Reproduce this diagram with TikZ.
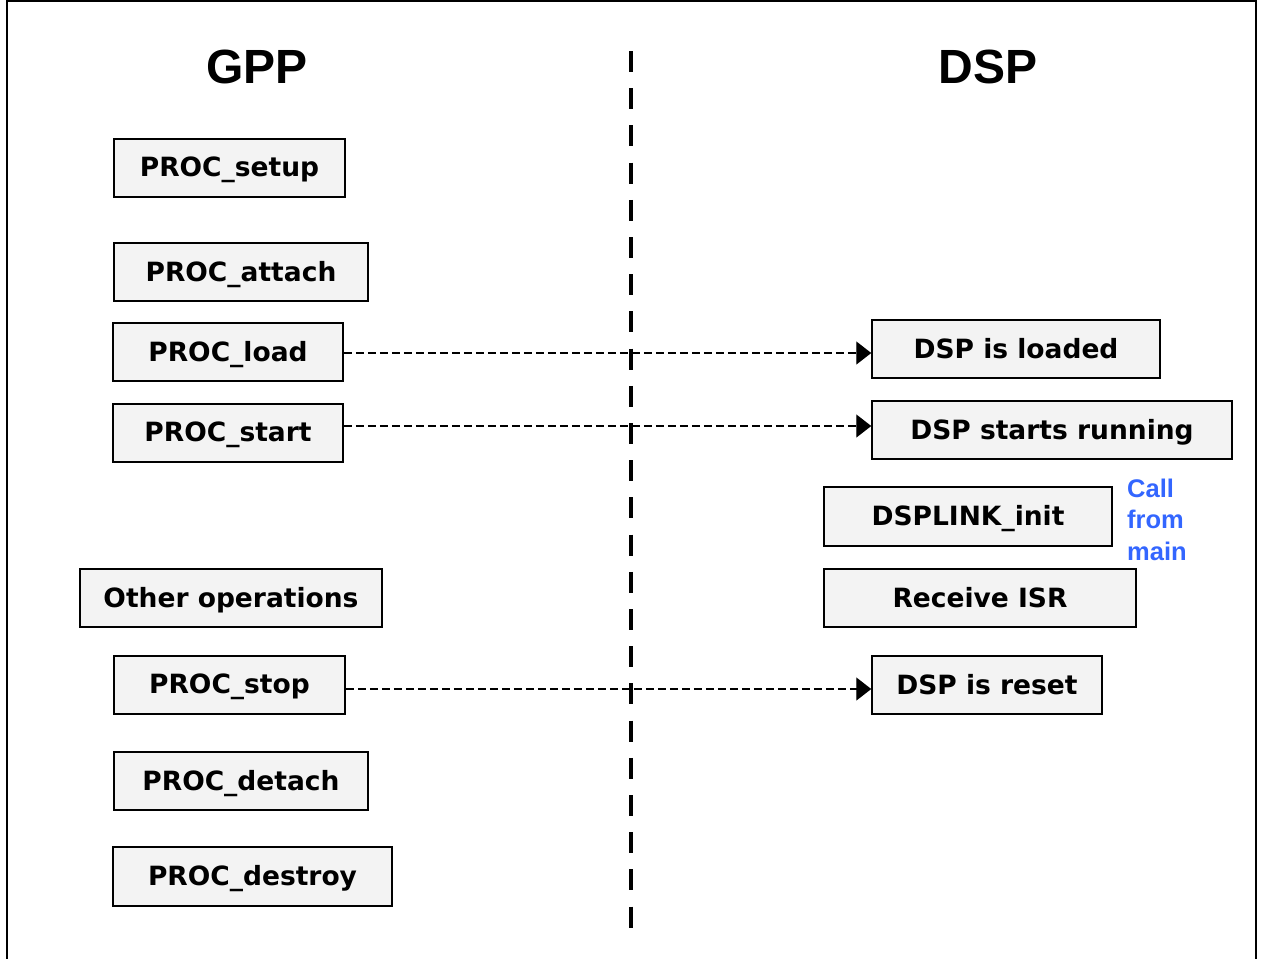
\documentclass[tikz,border=0pt]{standalone}
\usepackage{fontspec}
\setmainfont{DejaVu Sans}
\newfontfamily\arialfont{Liberation Sans}
\usetikzlibrary{arrows.meta}
\definecolor{boxfill}{HTML}{F3F3F3}
\definecolor{callblue}{HTML}{3366FF}
\begin{document}
\begin{tikzpicture}[x=1pt,y=-1pt,
  opbox/.style={draw=black,line width=1.5pt,fill=boxfill,inner sep=0pt,
    font=\fontsize{26.5}{30}\selectfont\bfseries,text depth=0.35ex},
  title/.style={font=\arialfont\fontsize{48}{52}\selectfont\bfseries},
  msg/.style={line width=1.4pt,dash pattern=on 8pt off 4pt,
    -{Triangle[length=15pt,width=23pt]}},
  divider/.style={line width=4pt,dash pattern=on 21pt off 16.2pt}]
\useasboundingbox (0,0) rectangle (1262,959);
\draw[line width=2pt] (7,962) -- (7,1) -- (1256,1) -- (1256,962);

\node[title] (gpp) at (257,67) {GPP};
\node[title] (dsp) at (988,67) {DSP};

\coordinate (dtop) at (631,51);
\coordinate (dbot) at (631,931);
\draw[divider] (dtop) -- (dbot);

% GPP side
\node[opbox,minimum width=231pt,minimum height=58pt] (setup) at (229.5,168) {PROC\_setup};
\node[opbox,minimum width=254pt,minimum height=58pt] (attach) at (241,272) {PROC\_attach};
\node[opbox,minimum width=230pt,minimum height=58pt] (load) at (228,352) {PROC\_load};
\node[opbox,minimum width=230pt,minimum height=58pt] (start) at (228,433) {PROC\_start};
\node[opbox,minimum width=302pt,minimum height=58pt] (other) at (231,598) {Other operations};
\node[opbox,minimum width=231pt,minimum height=58pt] (stop) at (229.5,685) {PROC\_stop};
\node[opbox,minimum width=254pt,minimum height=58pt] (detach) at (241,781) {PROC\_detach};
\node[opbox,minimum width=279pt,minimum height=59pt] (destroy) at (252.5,876.5) {PROC\_destroy};

% DSP side
\node[opbox,minimum width=288pt,minimum height=58pt] (loaded) at (1016,349) {DSP is loaded};
\node[opbox,minimum width=360pt,minimum height=58pt] (running) at (1052,430) {DSP starts running};
\node[opbox,minimum width=288pt,minimum height=59pt] (init) at (968,516.5) {DSPLINK\_init};
\node[opbox,minimum width=312pt,minimum height=58pt] (isr) at (980,598) {Receive ISR};
\node[opbox,minimum width=230pt,minimum height=58pt] (reset) at (987,685) {DSP is reset};

\node[anchor=north west,inner sep=0pt,text=callblue,align=left,
  font=\arialfont\fontsize{25.5}{31.5}\selectfont\bfseries] (call) at (1127,478.5) {Call\\from\\main};

% messages
\coordinate (m1) at ([yshift=-1pt]load.east);
\coordinate (m2) at ([yshift=7pt]start.east);
\coordinate (m3) at ([yshift=-4pt]stop.east);
\draw[msg] (m1) -- (loaded.west |- m1);
\draw[msg] (m2) -- (running.west |- m2);
\draw[msg] (m3) -- (reset.west |- m3);
\end{tikzpicture}
\end{document}
